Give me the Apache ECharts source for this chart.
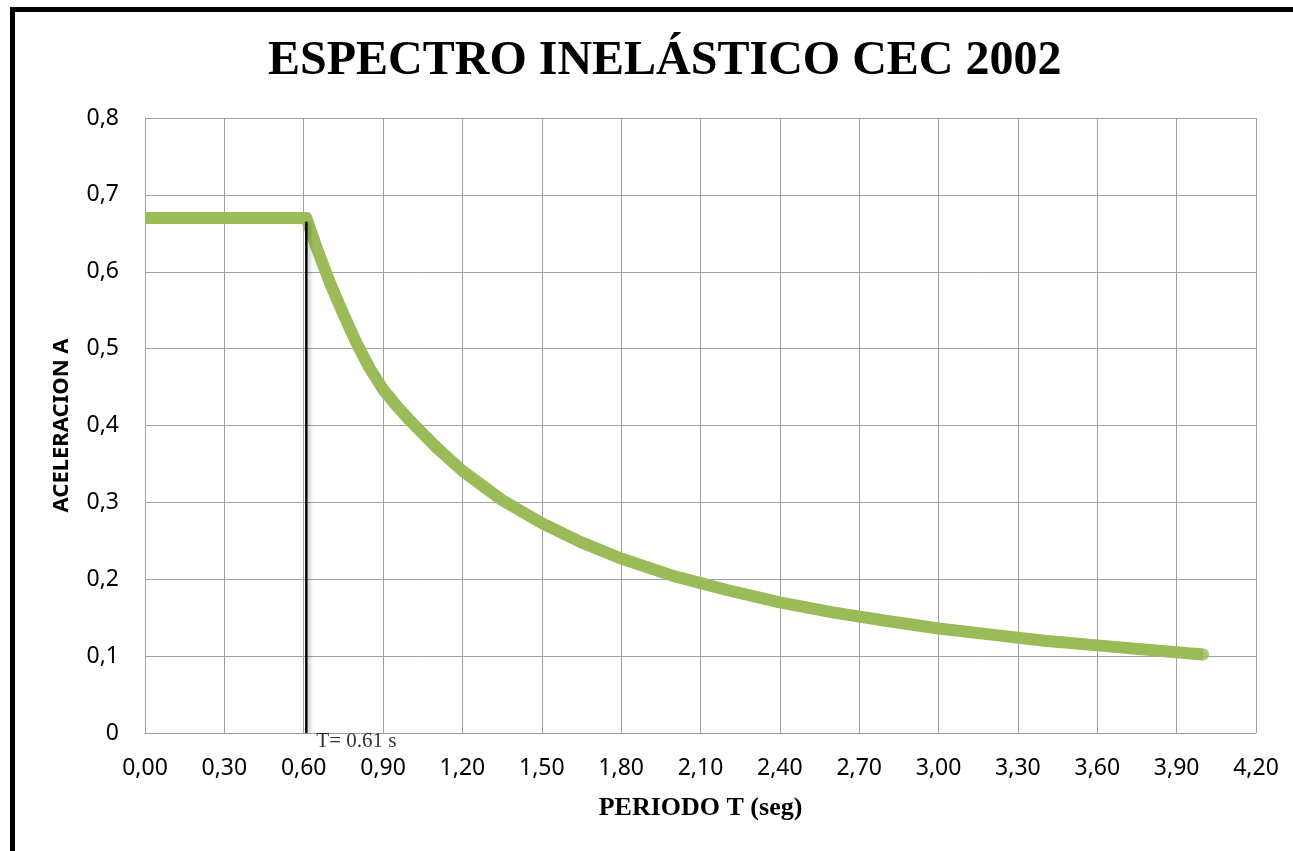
<!DOCTYPE html>
<html>
<head>
<meta charset="utf-8">
<script src="https://cdn.jsdelivr.net/npm/echarts@6/dist/echarts.min.js"></script>
<style>
html,body{margin:0;padding:0;background:#fff;}
#frame{position:absolute;left:10px;top:7px;width:1300px;height:860px;border-left:5px solid #000;border-top:5px solid #000;box-sizing:border-box;}
#chart{position:absolute;left:0;top:0;width:1293px;height:851px;}
</style>
</head>
<body>
<div id="frame"></div>
<div id="chart"></div>
<script>
const titleText = 'ESPECTRO INELÁSTICO CEC 2002';
const xAxisName = 'PERIODO T (seg)';
const yAxisName = 'ACELERACION A';
const periods = [0, 0.61, 0.65, 0.70, 0.75, 0.80, 0.85, 0.90, 0.95, 1.00, 1.10, 1.20, 1.35, 1.50, 1.65, 1.80, 2.00, 2.20, 2.40, 2.60, 2.80, 3.00, 3.20, 3.40, 3.60, 3.80, 4.00];
const accel   = [0.67, 0.67, 0.63, 0.585, 0.545, 0.507, 0.474, 0.447, 0.426, 0.407, 0.372, 0.341, 0.303, 0.273, 0.248, 0.227, 0.204, 0.186, 0.170, 0.157, 0.146, 0.136, 0.128, 0.120, 0.114, 0.108, 0.102];
const tcPeriod = 0.61;
const tcLineTop = 0.665;
const tcLabel = 'T= 0.61 s';
const xMin = 0, xMax = 4.2, xStep = 0.3;
const yMin = 0, yMax = 0.8, yStep = 0.1;

const chart = echarts.init(document.getElementById('chart'), null, {renderer: 'canvas'});
const curve = periods.map((t, i) => [t, accel[i]]);
const lastPoint = curve[curve.length - 1];
chart.setOption({
  animation: false,
  backgroundColor: 'transparent',
  title: {
    text: titleText, left: 263, top: 33,
    textStyle: {fontFamily: 'Liberation Serif', fontWeight: 'bold', fontSize: 48, color: '#000'}
  },
  grid: {left: 145, right: 37, top: 118, bottom: 118},
  xAxis: {
    type: 'value', min: xMin, max: xMax, interval: xStep,
    name: xAxisName, nameLocation: 'middle', nameGap: 62,
    nameTextStyle: {fontFamily: 'Liberation Serif', fontWeight: 'bold', fontSize: 26, color: '#000'},
    axisLine: {show: true, lineStyle: {color: '#a0a0a0', width: 1}},
    axisTick: {show: false},
    splitLine: {show: true, lineStyle: {color: '#a0a0a0', width: 1}},
    axisLabel: {
      margin: 24, color: '#000', fontFamily: 'Noto Sans', fontSize: 23,
      formatter: v => v.toFixed(2).replace('.', ',')
    }
  },
  yAxis: {
    type: 'value', min: yMin, max: yMax, interval: yStep,
    name: yAxisName, nameLocation: 'middle', nameGap: 72,
    nameTextStyle: {fontFamily: 'Noto Sans', fontWeight: 'bold', fontSize: 22, color: '#000'},
    axisLine: {show: true, lineStyle: {color: '#a0a0a0', width: 1}},
    axisTick: {show: false},
    splitLine: {show: true, lineStyle: {color: '#a0a0a0', width: 1}},
    axisLabel: {
      margin: 26, color: '#000', fontFamily: 'Noto Sans', fontSize: 23,
      formatter: v => v === 0 ? '0' : (Math.round(v * 10) / 10).toString().replace('.', ',')
    }
  },
  series: [
    {
      type: 'line', data: [[tcPeriod, 0], [tcPeriod, tcLineTop]], showSymbol: false, symbol: 'none',
      lineStyle: {color: '#000', width: 2.5, shadowColor: 'rgba(0,0,0,0.22)', shadowOffsetX: 3, shadowBlur: 3},
      z: 3
    },
    {
      type: 'line', data: curve, showSymbol: false, symbol: 'none',
      lineStyle: {color: '#9BBB59', width: 12, cap: 'butt', join: 'round'},
      z: 2
    },
    {
      type: 'scatter', data: [lastPoint], symbol: 'circle', symbolSize: 12,
      itemStyle: {color: '#9BBB59'}, z: 2
    },
    {
      type: 'scatter', data: [[tcPeriod, 0]], symbolSize: 0,
      label: {show: true, position: 'right', distance: 10, offset: [0, 8], formatter: tcLabel,
        fontFamily: 'Liberation Serif', fontSize: 21, color: '#000'},
      z: 4
    }
  ]
});
</script>
</body>
</html>
